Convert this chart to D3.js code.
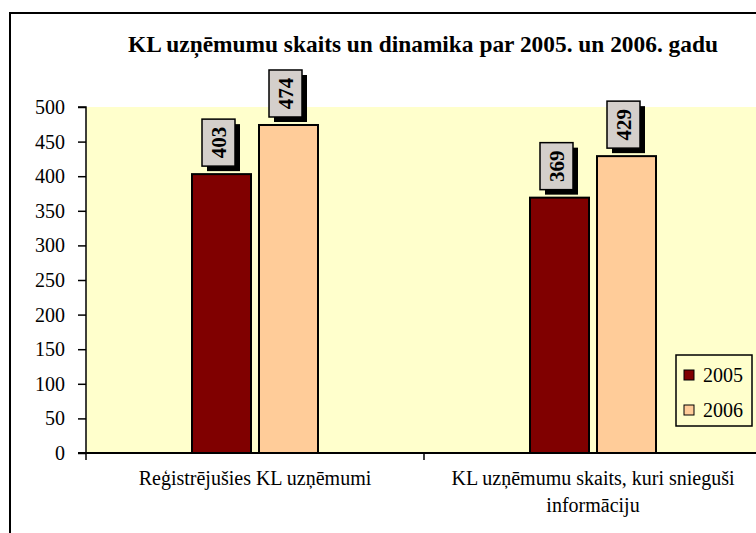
<!DOCTYPE html>
<html><head><meta charset="utf-8">
<script src="https://cdn.jsdelivr.net/npm/d3@7/dist/d3.min.js"></script>
<style>body{margin:0;background:#fff}svg{display:block}</style>
</head><body>
<script>
const categories = [["Reģistrējušies KL uzņēmumi"], ["KL uzņēmumu skaits, kuri snieguši", "informāciju"]];
const seriesNames = ["2005", "2006"];
const values2005 = [403, 369];
const values2006 = [474, 429];
const yTicks = [0, 50, 100, 150, 200, 250, 300, 350, 400, 450, 500];
const title = "KL uzņēmumu skaits un dinamika par 2005. un 2006. gadu";

const colors = ["#800000", "#FFCC99"];
const W = 756, H = 533;
const svg = d3.select("body").append("svg").attr("width", W).attr("height", H);
const font = "'Liberation Serif', 'Times New Roman', serif";

// outer frame
svg.append("rect").attr("x", 10).attr("y", 13).attr("width", 800).attr("height", 600)
  .attr("fill", "#fff").attr("stroke", "#000").attr("stroke-width", 2);

const plot = {left: 86, top: 107, right: 762, bottom: 453};
const x0 = d3.scaleBand().domain(d3.range(categories.length)).range([plot.left, plot.right]);
const y = d3.scaleLinear().domain([0, 500]).range([plot.bottom, plot.top]);

svg.append("rect").attr("x", plot.left).attr("y", plot.top)
  .attr("width", plot.right - plot.left).attr("height", plot.bottom - plot.top)
  .attr("fill", "#FFFFCC");

// title
svg.append("text").attr("x", 423).attr("y", 52).attr("text-anchor", "middle")
  .attr("font-family", font).attr("font-weight", "bold").attr("font-size", 23)
  .attr("textLength", 590).attr("lengthAdjust", "spacingAndGlyphs")
  .text(title);

const barW = 59, gap = 8;
const data = [];
categories.forEach((c, i) => {
  [values2005[i], values2006[i]].forEach((v, j) => data.push({cat: i, s: seriesNames[j], v, j}));
});

const barX = d => x0(d.cat) + x0.bandwidth() / 2 + (d.j === 0 ? -(barW + gap / 2) : gap / 2);

svg.append("g").selectAll("rect").data(data).join("rect")
  .attr("x", barX).attr("y", d => y(d.v))
  .attr("width", barW).attr("height", d => y(0) - y(d.v))
  .attr("fill", d => colors[d.j]).attr("stroke", "#000").attr("stroke-width", 2);

// data labels
const lab = svg.append("g").selectAll("g").data(data).join("g")
  .attr("transform", d => `translate(${barX(d) + barW / 2 - 3},${y(d.v) - 8 - 47 / 2})`);
lab.append("rect").attr("x", -16.5 + 5).attr("y", -23.5 + 5).attr("width", 33).attr("height", 47).attr("fill", "#000");
lab.append("rect").attr("x", -16.5).attr("y", -23.5).attr("width", 33).attr("height", 47)
  .attr("fill", "#D4CFCB").attr("stroke", "#000").attr("stroke-width", 1.5);
lab.append("text").attr("transform", "rotate(-90)").attr("text-anchor", "middle").attr("dy", "0.35em")
  .attr("font-family", font).attr("font-weight", "bold").attr("font-size", 21)
  .text(d => d.v);

// y axis
const yAxis = d3.axisLeft(y).tickValues(yTicks).tickSize(8).tickPadding(13);
const gy = svg.append("g").attr("transform", `translate(${plot.left},0)`).call(yAxis);
gy.select(".domain").attr("stroke", "#000").attr("stroke-width", 1.5).attr("d", `M-8,${plot.top}H0V${plot.bottom}`);
gy.selectAll(".tick line").attr("stroke", "#000").attr("stroke-width", 1.5);
gy.selectAll(".tick text").attr("font-family", font).attr("font-size", 20).attr("fill", "#000");

// x axis
svg.append("line").attr("x1", plot.left - 8).attr("x2", plot.right).attr("y1", plot.bottom).attr("y2", plot.bottom)
  .attr("stroke", "#000").attr("stroke-width", 2);
svg.append("g").selectAll("line").data(d3.range(categories.length + 1)).join("line")
  .attr("x1", i => plot.left + i * x0.bandwidth()).attr("x2", i => plot.left + i * x0.bandwidth())
  .attr("y1", plot.bottom).attr("y2", plot.bottom + 7).attr("stroke", "#000").attr("stroke-width", 1.5);

const xl = svg.append("g").selectAll("text").data(categories).join("text")
  .attr("x", (d, i) => x0(i) + x0.bandwidth() / 2).attr("y", 485)
  .attr("text-anchor", "middle").attr("font-family", font).attr("font-size", 20);
xl.selectAll("tspan").data(d => d).join("tspan")
  .attr("x", function () { return this.parentNode.getAttribute("x"); })
  .attr("dy", (d, k) => k === 0 ? 0 : 27).text(d => d);

// legend
const lg = svg.append("g");
lg.append("rect").attr("x", 676).attr("y", 355).attr("width", 76).attr("height", 71)
  .attr("fill", "#FFFFCC").attr("stroke", "#000").attr("stroke-width", 1.5);
const li = lg.selectAll("g").data(seriesNames).join("g")
  .attr("transform", (d, i) => `translate(684,${375 + i * 35})`);
li.append("rect").attr("x", 0).attr("y", -5).attr("width", 10).attr("height", 10)
  .attr("fill", (d, i) => colors[i]).attr("stroke", "#000").attr("stroke-width", 1);
li.append("text").attr("x", 19).attr("dy", "0.35em").attr("font-family", font).attr("font-size", 20).text(d => d);
</script>
</body></html>
